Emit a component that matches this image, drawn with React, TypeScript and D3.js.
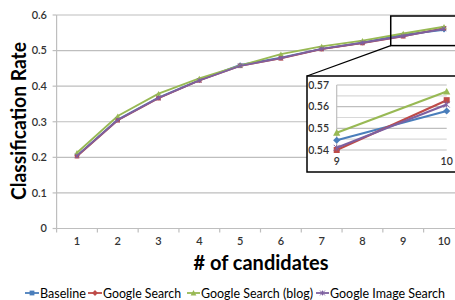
import React from 'react';
import * as d3 from 'd3';

const candidates = [1, 2, 3, 4, 5, 6, 7, 8, 9, 10];
const seriesNames = ['Baseline', 'Google Search', 'Google Search (blog)', 'Google Image Search'];
const baseline = [0.205, 0.306, 0.368, 0.417, 0.460, 0.480, 0.505, 0.522, 0.5445, 0.558];
const googleSearch = [0.203, 0.304, 0.366, 0.416, 0.457, 0.478, 0.504, 0.521, 0.540, 0.563];
const googleBlog = [0.213, 0.316, 0.379, 0.422, 0.458, 0.490, 0.512, 0.528, 0.548, 0.567];
const googleImage = [0.204, 0.305, 0.367, 0.416, 0.457, 0.479, 0.505, 0.522, 0.541, 0.561];
const yTicks = [0, 0.1, 0.2, 0.3, 0.4, 0.5, 0.6];
const insetCategories = [9, 10];
const insetTicks = [0.54, 0.55, 0.56, 0.57];
const insetGrid = [0.54, 0.545, 0.55, 0.555, 0.56, 0.565, 0.57];
const zoomY = [0.514, 0.6];

const colors = ['#4A7EBB', '#BE4B48', '#98B954', '#7D60A0'];
const markers = ['diamond', 'square', 'triangle', 'x'];
const legendMarkers = ['square', 'diamond', 'triangle', 'x'];
const allSeries = [baseline, googleSearch, googleBlog, googleImage];

const font = 'Lato, "Open Sans", sans-serif';

const Marker = ({ type, x, y, color, s = 3.2 }: { type: string; x: number; y: number; color: string; s?: number }) => {
  if (type === 'diamond')
    return <path d={`M${x},${y - s * 1.2}L${x + s * 1.2},${y}L${x},${y + s * 1.2}L${x - s * 1.2},${y}Z`} fill={color} />;
  if (type === 'square') return <rect x={x - s} y={y - s} width={s * 2} height={s * 2} fill={color} />;
  if (type === 'triangle')
    return <path d={`M${x},${y - s * 1.2}L${x + s * 1.2},${y + s}L${x - s * 1.2},${y + s}Z`} fill={color} />;
  return (
    <path
      d={`M${x - s},${y - s}L${x + s},${y + s}M${x - s},${y + s}L${x + s},${y - s}M${x},${y - s}L${x},${y + s}`}
      stroke={color}
      strokeWidth={1}
    />
  );
};

export default function App() {
  const width = 455;
  const height = 300;

  // main chart scales (plot area runs past the right edge, as in the crop)
  const x = d3.scaleBand<number>().domain(candidates).range([56.6, 464.4]).padding(0);
  const cx = (c: number) => (x(c) as number) + x.bandwidth() / 2;
  const y = d3.scaleLinear().domain([0, 0.6]).range([228.5, 15]);

  const line = d3
    .line<number>()
    .x((_, i) => cx(candidates[i]))
    .y((d) => y(d));

  // inset scales
  const xi = d3.scalePoint<number>().domain(insetCategories).range([336.7, 446.7]);
  const yi = d3.scaleLinear().domain([0.54, 0.57]).range([150, 85]);
  const insetLine = d3
    .line<number>()
    .x((_, i) => xi(insetCategories[i]) as number)
    .y((d) => yi(d));

  const boxLeft = cx(9) - 12.5;
  const boxTop = y(zoomY[1]) + 1;
  const boxBottom = y(zoomY[0]);
  const inset = { x: 307, y: 76, w: 152, h: 96 };

  // legend layout: [line start, text start, text width]
  const legendLayout = [
    [25, 39, 46],
    [88, 102, 78],
    [187, 200, 112],
    [316, 329, 115],
  ];

  return (
    <svg
      width={width}
      height={height}
      viewBox={`0 0 ${width} ${height}`}
      style={{ position: 'absolute', left: 0, top: 0, background: '#fff' }}
      fontFamily={font}
    >
      {/* gridlines */}
      {yTicks.slice(1).map((t) => (
        <line key={t} x1={x.range()[0]} x2={x.range()[1]} y1={y(t)} y2={y(t)} stroke="#BEBEBE" strokeWidth={1.2} />
      ))}
      {/* axes */}
      <line x1={x.range()[0]} x2={x.range()[0]} y1={y(0.6)} y2={y(0)} stroke="#BEBEBE" strokeWidth={1.2} />
      <line x1={x.range()[0]} x2={x.range()[1]} y1={y(0)} y2={y(0)} stroke="#BEBEBE" strokeWidth={1.2} />
      {candidates.map((c) => (
        <line key={c} x1={x(c)} x2={x(c)} y1={y(0)} y2={y(0) + 4} stroke="#BEBEBE" strokeWidth={1.2} />
      ))}
      {yTicks.map((t) => (
        <line key={t} x1={x.range()[0] - 4} x2={x.range()[0]} y1={y(t)} y2={y(t)} stroke="#BEBEBE" strokeWidth={1.2} />
      ))}
      {yTicks.map((t) => (
        <text key={t} x={47} y={y(t)} dy="0.35em" textAnchor="end" fontSize={11} fontWeight={600} fill="#333">
          {t === 0 ? '0' : t.toFixed(1)}
        </text>
      ))}
      {candidates.map((c) => (
        <text key={c} x={cx(c)} y={245} textAnchor="middle" fontSize={11} fontWeight={600} fill="#333">
          {c}
        </text>
      ))}

      {/* series */}
      {allSeries.map((s, i) => (
        <g key={i}>
          <path d={line(s) as string} fill="none" stroke={colors[i]} strokeWidth={1.8} />
          {s.map((v, j) => (
            <Marker key={j} type={markers[i]} x={cx(candidates[j])} y={y(v)} color={colors[i]} s={2.2} />
          ))}
        </g>
      ))}

      {/* titles */}
      <text
        x={261}
        y={270}
        textAnchor="middle"
        fontSize={20}
        fontWeight={700}
        fill="#000"
        textLength={135}
        lengthAdjust="spacingAndGlyphs"
      >
        # of candidates
      </text>
      <text
        transform={`translate(26,121) rotate(-90)`}
        textAnchor="middle"
        fontSize={20}
        fontWeight={700}
        fill="#000"
        textLength={158}
        lengthAdjust="spacingAndGlyphs"
      >
        Classification Rate
      </text>

      {/* zoom box and connector */}
      <rect x={boxLeft} y={boxTop} width={width} height={boxBottom - boxTop} fill="none" stroke="#000" strokeWidth={1.5} />
      <line x1={boxLeft} y1={boxBottom} x2={inset.x} y2={inset.y} stroke="#000" strokeWidth={1.3} />

      {/* inset */}
      <rect x={inset.x} y={inset.y} width={inset.w} height={inset.h} fill="#fff" stroke="#000" strokeWidth={1.5} />
      {insetGrid.map((t) => (
        <line
          key={t}
          x1={xi(9)}
          x2={xi(10)}
          y1={yi(t)}
          y2={yi(t)}
          stroke={Math.round(t * 1000) % 10 === 0 ? '#BEBEBE' : '#D8D8D8'}
          strokeWidth={1.2}
        />
      ))}
      <line x1={xi(9)} x2={xi(9)} y1={yi(0.57)} y2={yi(0.54)} stroke="#BEBEBE" strokeWidth={1.2} />
      {insetTicks.map((t) => (
        <text key={t} x={329} y={yi(t)} dy="0.35em" textAnchor="end" fontSize={10.5} fontWeight={600} fill="#333">
          {t.toFixed(2)}
        </text>
      ))}
      {insetCategories.map((c) => (
        <text key={c} x={xi(c)} y={165} textAnchor="middle" fontSize={10.5} fontWeight={600} fill="#333">
          {c}
        </text>
      ))}
      {allSeries.map((s, i) => {
        const vals = s.slice(8);
        return (
          <g key={i}>
            <path d={insetLine(vals) as string} fill="none" stroke={colors[i]} strokeWidth={2.2} />
            {vals.map((v, j) => (
              <Marker key={j} type={markers[i]} x={xi(insetCategories[j]) as number} y={yi(v)} color={colors[i]} s={3} />
            ))}
          </g>
        );
      })}

      {/* legend */}
      {seriesNames.map((n, i) => {
        const [lx, tx, tw] = legendLayout[i];
        return (
          <g key={n}>
            <line x1={lx} x2={tx} y1={293} y2={293} stroke={colors[i]} strokeWidth={1.8} />
            <Marker type={legendMarkers[i]} x={(lx + tx) / 2} y={293} color={colors[i]} s={2.4} />
            <text x={tx + 1} y={293} dy="0.35em" fontSize={13} fill="#000" textLength={tw} lengthAdjust="spacingAndGlyphs">
              {n}
            </text>
          </g>
        );
      })}
    </svg>
  );
}
